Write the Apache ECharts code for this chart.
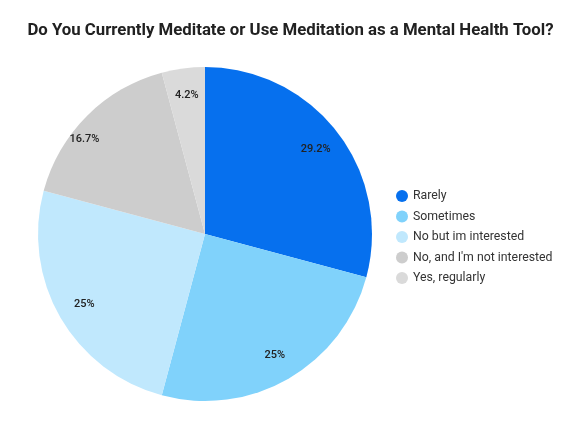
<!DOCTYPE html>
<html>
<head>
<meta charset="utf-8">
<script src="https://cdn.jsdelivr.net/npm/echarts@6/dist/echarts.min.js"></script>
<style>
  html, body { margin: 0; padding: 0; background: #fff; }
  #chart { width: 581px; height: 429px; }
</style>
</head>
<body>
<div id="chart"></div>
<script>
// answers and counts (24 people)
var answers = ['Rarely', 'Sometimes', 'No but im interested', "No, and I'm not interested", 'Yes, regularly'];
var counts = [7, 6, 6, 4, 1];
var colors = ['#0670ee', '#80d2fb', '#c0e8fd', '#cdcdcd', '#dadada'];

var total = 0;
var pieData = [];
for (var i = 0; i < answers.length; i++) {
  total += counts[i];
  pieData.push({ name: answers[i], value: counts[i] });
}

var labelData = pieData.map(function (d, i) {
  var item = { name: d.name, value: d.value };
  // google puts the grey one a bit further out
  if (i == 3) item.label = { offset: [-22, 4] };
  return item;
});

var myChart = echarts.init(document.getElementById('chart'));

var option = {
  color: colors,
  title: {
    text: 'Do You Currently Meditate or Use Meditation as a Mental Health Tool?',
    left: 'center',
    top: 17,
    textStyle: { fontFamily: 'Roboto', fontWeight: 'bold', fontSize: 16.8, color: '#212121' }
  },
  legend: {
    orient: 'vertical',
    left: 391,
    top: 185,
    icon: 'circle',
    itemWidth: 12,
    itemHeight: 12,
    itemGap: 8.5,
    textStyle: { fontFamily: 'Roboto', fontSize: 12.3, color: '#333' },
    data: answers
  },
  series: [{
    type: 'pie',
    center: [205, 234],
    radius: [0, 167],
    startAngle: 90,
    label: { show: false },
    labelLine: { show: false },
    data: pieData
  }, {
    // transparent ring only used to put the labels near the rim
    type: 'pie',
    center: [205, 234],
    radius: [106, 167],
    startAngle: 90,
    silent: true,
    itemStyle: { color: 'rgba(0,0,0,0)' },
    label: {
      show: true,
      position: 'inside',
      formatter: function (p) {
        return parseFloat((p.value / total * 100).toFixed(1)) + '%';
      },
      fontFamily: 'Roboto',
      fontWeight: 500,
      fontSize: 11,
      color: '#222'
    },
    labelLine: { show: false },
    data: labelData
  }]
};

myChart.setOption(option);
</script>
</body>
</html>
